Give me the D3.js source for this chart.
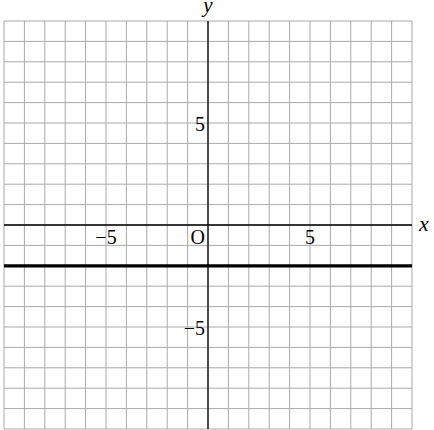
<!DOCTYPE html>
<html>
<head>
<meta charset="utf-8">
<script src="https://cdn.jsdelivr.net/npm/d3@7"></script>
<style>
  body { margin: 0; background: #fff; }
  text { font-family: "Liberation Serif", "DejaVu Serif", serif; fill: #000; }
</style>
</head>
<body>
<svg id="chart"></svg>
<script>
// grid and data
var gridX = d3.range(-10, 11);
var gridY = d3.range(-10, 11);
var xTicks = [-5, 5];
var yTicks = [5, -5];
var lineY = [-2];

var svgWidth = 434, svgHeight = 430;
var svg = d3.select("#chart")
  .attr("width", svgWidth)
  .attr("height", svgHeight);

var x = d3.scaleLinear().domain([-10, 10]).range([4, 412]);
var y = d3.scaleLinear().domain([10, -10]).range([21, 429]);

// grid lines
svg.append("g").selectAll("line").data(gridX).enter().append("line")
  .attr("x1", d => x(d)).attr("x2", d => x(d))
  .attr("y1", y(10)).attr("y2", y(-10))
  .attr("stroke", "#aaa").attr("stroke-width", 1);

svg.append("g").selectAll("line").data(gridY).enter().append("line")
  .attr("y1", d => y(d)).attr("y2", d => y(d))
  .attr("x1", x(-10)).attr("x2", x(10))
  .attr("stroke", "#aaa").attr("stroke-width", 1);

// axes
svg.append("line")
  .attr("x1", x(-10)).attr("x2", x(10))
  .attr("y1", y(0)).attr("y2", y(0))
  .attr("stroke", "#000").attr("stroke-width", 1.3);
svg.append("line")
  .attr("x1", x(0)).attr("x2", x(0))
  .attr("y1", y(10)).attr("y2", y(-10))
  .attr("stroke", "#000").attr("stroke-width", 1.3);

// the horizontal line
svg.selectAll("line.h").data(lineY).enter().append("line")
  .attr("class", "h")
  .attr("x1", x(-10)).attr("x2", x(10))
  .attr("y1", d => y(d)).attr("y2", d => y(d))
  .attr("stroke", "#000").attr("stroke-width", 3.2);

// tick labels
svg.selectAll("text.xt").data(xTicks).enter().append("text")
  .attr("class", "xt")
  .attr("x", d => x(d))
  .attr("y", y(0) + 19)
  .attr("text-anchor", "middle")
  .style("font-size", "20px")
  .text(d => d < 0 ? "\u2212" + Math.abs(d) : d);

svg.selectAll("text.yt").data(yTicks).enter().append("text")
  .attr("class", "yt")
  .attr("x", x(0) - 3)
  .attr("y", d => y(d) + 8)
  .attr("text-anchor", "end")
  .style("font-size", "20px")
  .text(d => d < 0 ? "\u2212" + Math.abs(d) : d);

svg.append("text")
  .attr("x", x(0) - 3)
  .attr("y", y(0) + 19)
  .attr("text-anchor", "end")
  .style("font-size", "20px")
  .text("O");

// axis names
svg.append("text")
  .attr("x", 419).attr("y", y(0) + 6)
  .style("font-size", "22px").style("font-style", "italic")
  .text("x");
svg.append("text")
  .attr("x", x(0)).attr("y", 12)
  .attr("text-anchor", "middle")
  .style("font-size", "21px").style("font-style", "italic")
  .text("y");
</script>
</body>
</html>
